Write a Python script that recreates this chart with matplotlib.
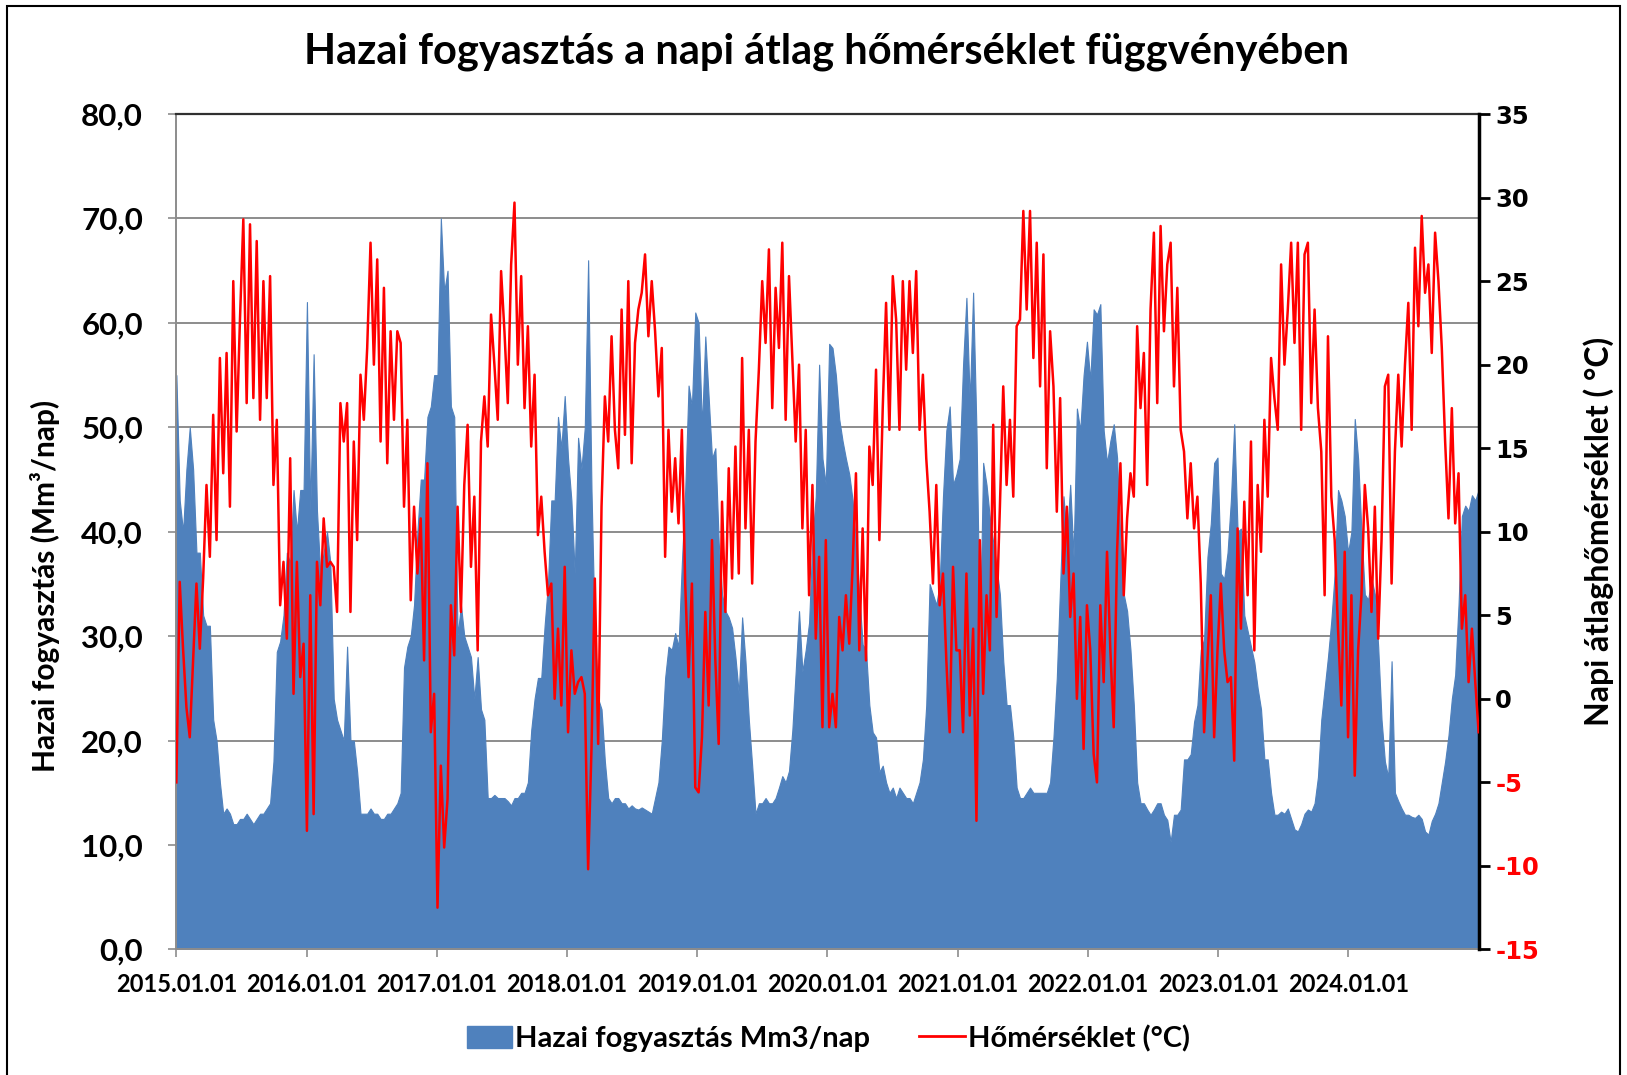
import matplotlib
matplotlib.use("Agg")
import matplotlib.pyplot as plt
from matplotlib.patches import Patch, Rectangle
from matplotlib.lines import Line2D
from matplotlib.ticker import FuncFormatter, MultipleLocator
import numpy as np
import pandas as pd

plt.rcParams['font.family'] = ['Lato', 'DejaVu Sans']
plt.rcParams['font.weight'] = 'bold'

# ~9-10 napos leolvasott értékek évenként (39 érték / év)
# hazai fogyasztás, Mm3/nap
gas_2015 = [55, 43, 40, 46, 50, 46, 38, 38, 32, 31, 31, 22, 20, 16, 13, 13.5, 13, 12, 12, 12.5,
            12.5, 13, 12.5, 12, 12.5, 13, 13, 13.5, 14, 18, 28.5, 29.5, 32, 38, 37, 44, 40, 44, 44]
gas_2016 = [62, 42, 57, 42, 36, 38, 40, 37, 24, 22, 21, 20, 29, 20, 20, 17, 13, 13, 13, 13.5,
            13, 13, 12.5, 12.5, 13, 13, 13.5, 14, 15, 27, 29, 30, 33, 40, 45, 45, 51, 52, 55]
gas_2017 = [55, 70, 63, 65, 52, 51, 30, 33, 30, 29, 28, 24, 28, 23, 22, 14.5, 14.5, 14.8, 14.5, 14.5,
            14.5, 14.2, 13.8, 14.5, 14.5, 15, 15, 16, 21, 24, 26, 26, 31, 35, 43, 43, 51, 48, 53]
gas_2018 = [47, 43, 36, 49, 46, 50, 66, 44, 30, 24, 23, 18, 14.5, 14, 14.5, 14.5, 14, 14, 13.5, 13.8,
            13.5, 13.4, 13.6, 13.4, 13.2, 13, 14.5, 16, 20, 26, 29, 28.7, 30.3, 29, 37, 44, 54, 52, 61]
gas_2019 = [60, 50, 58.7, 52.9, 47, 48, 39, 34, 32.4, 31.8, 30.8, 28, 24.5, 31.8, 27.6, 22, 17.6, 13, 14, 14,
            14.5, 14, 14, 14.5, 15.5, 16.6, 16, 17.1, 21, 26.6, 32.4, 26.6, 28.7, 31.3, 39.2, 43.4, 56, 47, 44.5]
gas_2020 = [58, 57.6, 55, 50.8, 48.7, 47, 45.5, 43, 39, 34, 29.2, 28.7, 23.4, 20.8, 20.3, 17, 17.6, 16, 15, 15.5,
            14.5, 15.5, 15, 14.5, 14.5, 14, 15, 16, 18.2, 23.4, 35, 34, 33, 35, 43.4, 49.7, 52, 44.5, 45.5]
gas_2021 = [47, 56, 62.4, 52.4, 62.9, 49.7, 30, 46.6, 44.5, 41.3, 39, 36.6, 34, 27.6, 23.4, 23.4, 20.3, 15.5, 14.5, 14.5,
            15, 15.5, 15, 15, 15, 15, 15, 16, 20.3, 26, 35, 43.4, 39.2, 44.5, 37.6, 51.8, 49.7, 55, 58.2]
gas_2022 = [54.5, 61.3, 60.8, 61.8, 49.7, 46.6, 48.7, 50.3, 47.1, 39, 34, 32.4, 28.7, 23.4, 16, 14, 14, 13.4, 12.9, 13.4,
            14, 14, 12.9, 12.4, 10.3, 12.9, 12.9, 13.4, 18.2, 18.2, 18.7, 21.8, 23.4, 28.7, 29.7, 37.6, 40.8, 46.6, 47.1]
gas_2023 = [36, 35.5, 38, 43, 50.3, 40, 40.3, 32, 30.5, 29, 27.5, 25, 23, 18.2, 18.2, 15, 12.9, 12.9, 13.2, 13,
            13.5, 12.5, 11.5, 11.3, 12, 13, 13.4, 13.2, 14, 16.5, 22, 25, 28, 31.5, 36, 44, 43, 41.5, 38]
gas_2024 = [40, 50.8, 47, 40, 34, 33.5, 35.5, 34, 29, 22, 18, 16.5, 27.6, 15, 14.2, 13.5, 12.9, 12.9, 12.7, 12.6,
            12.9, 12.5, 11.3, 11, 12.3, 13, 14, 16, 18, 20.5, 24, 26.3, 33, 41.5, 42.5, 42, 43.5, 43, 44]

# napi átlaghőmérséklet, °C
temp_2015 = [-5, 7, 3, -0.5, -2.3, 2.3, 6.9, 3, 7.2, 12.8, 8.5, 17, 9.5, 20.4, 13.5, 20.7, 11.5, 25, 16, 22.7,
             28.7, 17.7, 28.4, 18, 27.4, 16.7, 25, 18, 25.3, 12.8, 16.7, 5.6, 8.2, 3.6, 14.4, 0.3, 8.2, 1.3, 3.3]
temp_2016 = [-7.9, 6.2, -6.9, 8.2, 5.6, 10.8, 7.9, 8.2, 7.9, 5.2, 17.7, 15.4, 17.7, 5.2, 15.4, 9.5, 19.4, 16.7, 21, 27.3,
             20, 26.3, 15.4, 24.6, 14.1, 22, 16.7, 22, 21.3, 11.5, 16.7, 5.9, 11.5, 7.5, 10.8, 2.3, 14.1, -2, 0.3]
temp_2017 = [-12.5, -4, -8.9, -6, 5.6, 2.6, 11.5, 5.2, 12.8, 16.4, 7.9, 12.1, 2.9, 15.4, 18.1, 15.1, 23, 20, 16.7, 25.6,
             22, 17.7, 26, 29.7, 20, 25.3, 17.4, 22.3, 15.1, 19.4, 9.8, 12.1, 8.8, 6.2, 6.9, 0, 4.2, -0.4, 7.9]
temp_2018 = [-2, 2.9, 0.3, 1, 1.3, 0.3, -10.2, -3, 7.2, -2.7, 11.5, 18.1, 15.4, 21.7, 16.1, 13.8, 23.3, 15.8, 25, 14.1,
             21.3, 23.3, 24.3, 26.6, 21.7, 25, 22, 18.1, 21, 8.5, 16.1, 11.2, 14.4, 10.5, 16.1, 6.9, 1.3, 6.9, -5.3]
temp_2019 = [-5.6, -2.3, 5.2, -0.4, 9.5, 2.3, -2.7, 11.8, 5.2, 13.8, 7.2, 15.1, 7.5, 20.4, 10.2, 16.1, 6.9, 15.4, 19.7, 25,
             21.3, 26.9, 17.4, 24.6, 21, 27.3, 16.7, 25.3, 20.4, 15.4, 20, 10.2, 16.1, 6.2, 12.8, 3.6, 8.5, -1.7, 9.5]
temp_2020 = [-1.7, 0.3, -1.7, 4.9, 2.9, 6.2, 3.3, 7.9, 13.5, 2.9, 10.2, 2.3, 15.1, 12.8, 19.7, 9.5, 17.4, 23.7, 16.1, 25.3,
             22.7, 16.1, 25, 19.7, 25, 20.7, 25.6, 16.1, 19.4, 14.4, 11.2, 6.9, 12.8, 5.6, 7.5, 2.3, -2, 7.9, 2.9]
temp_2021 = [2.9, -2, 7.5, -1, 4.2, -7.3, 9.5, 0.3, 6.2, 2.9, 16.4, 4.9, 11.5, 18.7, 12.8, 16.7, 12.1, 22.3, 22.7, 29.2,
             23.3, 29.2, 20.4, 27.3, 18.7, 26.6, 13.8, 22, 18.7, 11.2, 18, 7.5, 11.5, 4.9, 7.5, 0, 4.9, -3, 5.6]
temp_2022 = [2.9, -3.3, -5, 5.6, 1, 8.8, 2.9, -1.7, 8.8, 14.1, 6.2, 10.8, 13.5, 12.1, 22.3, 17.4, 20.7, 12.8, 23.3, 27.9,
             17.7, 28.3, 22, 26, 27.3, 18.7, 24.6, 16.1, 14.8, 10.8, 14.1, 10.2, 12.1, 6.9, -2, 2.3, 6.2, -2.3, 2.9]
temp_2023 = [6.9, 2.9, 1, 1.3, -3.7, 10.2, 4.2, 11.8, 6.2, 15.4, 2.9, 12.8, 8.8, 16.7, 12.1, 20.4, 18, 16.1, 26, 20,
             23.3, 27.3, 21.3, 27.3, 16.1, 26.6, 27.3, 17.7, 23.3, 17.4, 14.8, 6.2, 21.7, 12.1, 9.5, 4.2, -0.4, 8.8, -2.3]
temp_2024 = [6.2, -4.6, 2.9, 6.2, 12.8, 10.2, 5.2, 11.5, 3.6, 9.5, 18.7, 19.4, 6.9, 14.8, 19.4, 15.1, 20, 23.7, 16.1, 27,
             22.3, 28.9, 24.3, 26, 20.7, 27.9, 25, 21, 15.4, 10.8, 17.4, 10.5, 13.5, 4.2, 6.2, 1, 4.2, 1, -2]

years = list(range(2015, 2025))
gas = np.concatenate([gas_2015, gas_2016, gas_2017, gas_2018, gas_2019,
                      gas_2020, gas_2021, gas_2022, gas_2023, gas_2024])
temp = np.concatenate([temp_2015, temp_2016, temp_2017, temp_2018, temp_2019,
                       temp_2020, temp_2021, temp_2022, temp_2023, temp_2024])
dates = pd.date_range("2015-01-01", "2024-12-31", periods=len(gas))

BLUE = '#4F81BD'
RED = '#FF0000'

fig = plt.figure(figsize=(16.27, 10.75), dpi=100)
ax = fig.add_axes([0.1084, 0.1168, 0.8004, 0.7771])
ax2 = ax.twinx()

ax.fill_between(dates, 0, gas, color=BLUE, linewidth=0.8, edgecolor=BLUE, zorder=2)
ax2.plot(dates, temp, color=RED, linewidth=1.8, zorder=3)

ax.set_xlim(pd.Timestamp("2015-01-01"), pd.Timestamp("2024-12-31"))
ax.set_ylim(0, 80)
ax2.set_ylim(-15, 35)

# rács
ax.set_axisbelow(True)
ax.yaxis.set_major_locator(MultipleLocator(10))
ax.grid(axis='y', color='#8c8c8c', linewidth=1.4)
ax.grid(axis='x', visible=False)

# bal tengely
ax.yaxis.set_major_formatter(FuncFormatter(lambda v, p: f"{v:.1f}".replace('.', ',')))
ax.tick_params(axis='y', direction='out', length=6, width=1.2, color='#8c8c8c',
               labelsize=22.5, pad=18)
for t in ax.get_yticklabels():
    t.set_fontweight('bold')

# x tengely
xt = [pd.Timestamp(f"{y}-01-01") for y in years]
ax.set_xticks(xt)
ax.set_xticklabels([f"{y}.01.01" for y in years], fontsize=17, fontweight='bold')
ax.tick_params(axis='x', direction='out', length=6, width=1.2, color='#8c8c8c', pad=11)

for s in ['left', 'bottom']:
    ax.spines[s].set_color('#8c8c8c')
    ax.spines[s].set_linewidth(1.4)
ax.spines['top'].set_color('#303030')
ax.spines['top'].set_linewidth(1.6)
ax.spines['right'].set_visible(False)

# jobb tengely
ax2.set_yticks(np.arange(-15, 36, 5))
ax2.set_yticklabels([f"{v}" for v in range(-15, 36, 5)], fontsize=17.5,
                    fontweight='bold', family='DejaVu Sans')
for t, v in zip(ax2.get_yticklabels(), range(-15, 36, 5)):
    t.set_color(RED if v < 0 else 'black')
ax2.tick_params(axis='y', direction='out', length=8, width=2, color='black', pad=4)
for s in ['left', 'bottom', 'top']:
    ax2.spines[s].set_visible(False)
ax2.spines['right'].set_color('black')
ax2.spines['right'].set_linewidth(2.5)

ax.set_ylabel("Hazai fogyasztás (Mm³/nap)", fontsize=21.5, fontweight='bold')
ax.yaxis.set_label_coords(-0.089, 0.435)
ax2.set_ylabel("Napi átlaghőmérséklet ( °C)", fontsize=23, fontweight='bold')
ax2.yaxis.set_label_coords(1.080, 0.5)

fig.text(0.508, 0.952, "Hazai fogyasztás a napi átlag hőmérséklet függvényében",
         ha='center', va='center', fontsize=30, fontweight='bold')

handles = [Patch(facecolor=BLUE, edgecolor=BLUE),
           Line2D([0], [0], color=RED, linewidth=2)]
fig.legend(handles, ["Hazai fogyasztás Mm3/nap", "Hőmérséklet (°C)"],
           loc='center', bbox_to_anchor=(0.509, 0.034), ncol=2, frameon=False,
           handlelength=1.55, handleheight=0.8, handletextpad=0.1,
           columnspacing=1.7, prop={'weight': 'bold', 'size': 21})

# keret a kép körül
fig.patches.append(Rectangle((0.004, -0.01), 0.992, 1.004, transform=fig.transFigure,
                             fill=False, edgecolor='black', linewidth=1.5))

fig.savefig("out.png", dpi=100)
